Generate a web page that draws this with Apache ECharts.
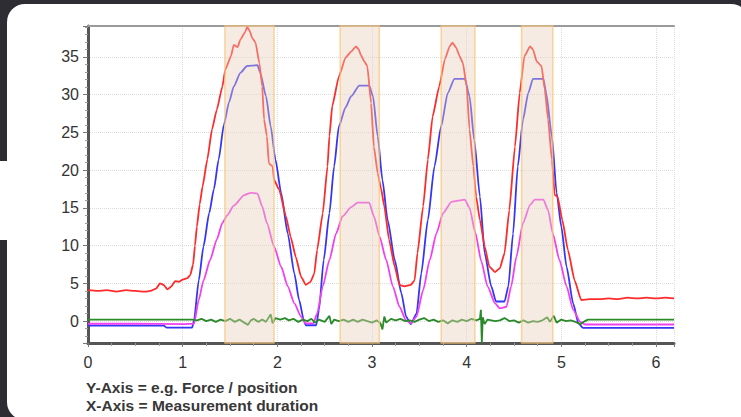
<!DOCTYPE html>
<html>
<head>
<meta charset="utf-8">
<script src="https://cdn.jsdelivr.net/npm/echarts@6/dist/echarts.min.js"></script>
<style>
html,body{margin:0;padding:0;background:#2e2d33;}
#chart{width:741px;height:417px;}
</style>
</head>
<body>
<div id="chart"></div>
<script>
// ---- data ----
var xTicks = [0, 1, 2, 3, 4, 5, 6];
var yTicks = [0, 5, 10, 15, 20, 25, 30, 35];
var captionLines = ["Y-Axis = e.g. Force / position", "X-Axis = Measurement duration"];

var bands = [[1.446, 1.965], [2.664, 3.077], [3.731, 4.087], [4.58, 4.91]];

var redForce = [
[0,4.1],[0.1,4.0],[0.2,4.1],[0.3,3.9],[0.4,4.1],[0.5,4.0],[0.6,3.9],[0.66,4.0],[0.72,4.3],[0.76,5.0],[0.8,4.8],[0.84,4.2],[0.88,4.6],[0.92,5.3],[0.96,5.2],[1.0,5.5],[1.05,5.7],[1.08,6.1],[1.11,7.5],[1.13,10],[1.15,12.5],[1.18,15.5],[1.21,17.8],[1.26,21.4],[1.31,25.4],[1.36,28.0],[1.42,31.1],[1.45,33.3],[1.51,35.1],[1.54,36.6],[1.58,36.3],[1.61,37.3],[1.665,38.4],[1.68,39.0],[1.71,38.4],[1.735,37.5],[1.77,36.9],[1.81,34.2],[1.84,31.1],[1.86,26.7],[1.89,24.5],[1.91,20.9],[1.95,20.5],[1.965,18.7],[2.02,17.4],[2.09,13.9],[2.14,11.2],[2.195,8.5],[2.25,5.9],[2.30,4.8],[2.35,5.2],[2.39,6.3],[2.42,9.4],[2.48,14.3],[2.53,20.5],[2.55,24.5],[2.58,28.5],[2.65,32.4],[2.72,34.9],[2.78,35.7],[2.83,36.4],[2.86,36.0],[2.88,35.3],[2.92,34.4],[2.95,33.8],[2.99,28.9],[3.02,23.1],[3.06,19.6],[3.095,17.6],[3.13,15.2],[3.18,10.8],[3.24,7.2],[3.29,4.8],[3.34,4.6],[3.41,4.8],[3.45,5.4],[3.48,9.0],[3.54,15.2],[3.59,21.4],[3.64,27.1],[3.71,31.1],[3.77,34.7],[3.82,36.4],[3.85,36.9],[3.89,36.2],[3.925,35.1],[3.96,34.2],[4.0,31.1],[4.03,25.4],[4.07,20.5],[4.10,16.5],[4.14,13.4],[4.19,9.9],[4.24,7.2],[4.30,6.5],[4.35,7.0],[4.40,9.0],[4.45,14.7],[4.51,23.1],[4.56,30.2],[4.61,35.1],[4.67,36.4],[4.70,36.0],[4.74,34.4],[4.79,33.8],[4.825,30.7],[4.86,26.7],[4.90,21.4],[4.93,16.7],[4.96,16.5],[5.01,13.4],[5.07,9.4],[5.14,5.4],[5.21,2.8],[5.3,2.9],[5.4,2.9],[5.5,3.0],[5.6,2.9],[5.7,3.1],[5.8,3.0],[5.9,3.1],[6.0,3.0],[6.1,3.1],[6.19,3.0]
];

var bluePosition = [
[0,-0.6],[0.4,-0.6],[0.8,-0.6],[0.83,-0.85],[1.0,-0.85],[1.1,-0.85],[1.12,0.1],[1.17,5.4],[1.22,9.9],[1.28,14.3],[1.33,17.5],[1.38,21.4],[1.435,26.0],[1.49,29.0],[1.54,31.1],[1.61,32.9],[1.68,33.8],[1.79,33.9],[1.82,32.9],[1.88,29.8],[1.93,25.8],[1.98,21.4],[2.04,17.0],[2.11,11.6],[2.18,6.3],[2.23,2.8],[2.28,0.1],[2.30,-0.55],[2.41,-0.55],[2.44,1.5],[2.49,8.1],[2.55,14.3],[2.60,20.5],[2.65,25.8],[2.72,28.3],[2.78,29.8],[2.865,31.2],[2.97,31.2],[3.01,29.8],[3.06,24.5],[3.11,18.7],[3.165,13.4],[3.24,8.1],[3.31,3.7],[3.36,0.6],[3.41,-0.4],[3.47,1.0],[3.52,6.3],[3.59,13.4],[3.66,20.5],[3.73,25.8],[3.80,30.2],[3.87,32.1],[3.98,32.1],[4.03,29.8],[4.08,24.0],[4.14,16.5],[4.19,9.0],[4.26,4.6],[4.31,2.6],[4.40,2.6],[4.44,4.6],[4.49,11.6],[4.54,20.5],[4.595,26.7],[4.65,30.2],[4.70,32.1],[4.81,32.1],[4.84,30.2],[4.90,24.5],[4.95,17.0],[5.00,12.5],[5.055,7.2],[5.125,2.35],[5.18,-0.3],[5.23,-0.9],[5.6,-0.9],[6.19,-0.9]
];

var magentaSignal = [
[0,-0.35],[0.5,-0.35],[1.0,-0.4],[1.12,-0.35],[1.17,2.8],[1.22,5.4],[1.29,8.1],[1.36,10.8],[1.42,13.0],[1.47,14.0],[1.54,15.3],[1.65,16.7],[1.72,17.0],[1.79,16.9],[1.84,15.2],[1.89,13.0],[1.965,9.9],[2.04,7.2],[2.11,4.6],[2.18,2.35],[2.25,0.6],[2.30,-0.3],[2.38,-0.3],[2.42,1.0],[2.48,4.6],[2.55,8.1],[2.62,11.6],[2.69,13.9],[2.78,15.1],[2.85,15.7],[2.97,15.7],[3.02,13.9],[3.08,11.2],[3.15,8.1],[3.22,4.6],[3.29,1.9],[3.36,0.1],[3.41,-0.3],[3.47,0.6],[3.54,4.1],[3.61,8.1],[3.68,11.6],[3.75,14.3],[3.84,15.8],[3.98,16.1],[4.03,15.0],[4.09,11.8],[4.155,7.9],[4.22,4.6],[4.30,2.35],[4.35,1.7],[4.42,1.9],[4.47,4.6],[4.525,8.5],[4.595,13.0],[4.67,15.4],[4.72,16.1],[4.81,16.1],[4.86,14.7],[4.91,11.6],[4.98,8.1],[5.055,4.6],[5.125,1.5],[5.20,-0.1],[5.25,-0.45],[6.19,-0.45]
];

var greenSignal = [
[0,0.2],[0.5,0.2],[1.0,0.2],[1.1,0.2],[1.15,0.1],[1.2,0.3],[1.25,0.0],[1.3,0.2],[1.35,-0.1],[1.4,0.2],[1.45,0.0],[1.5,0.3],[1.55,-0.1],[1.6,0.2],[1.65,-0.2],[1.69,-0.5],[1.72,0.1],[1.75,0.3],[1.8,-0.1],[1.84,0.2],[1.88,-0.1],[1.93,0.9],[1.95,-0.3],[1.98,0.4],[2.03,0.2],[2.08,0.4],[2.12,0.1],[2.17,0.3],[2.22,-0.1],[2.27,0.2],[2.32,0.0],[2.36,0.3],[2.4,-0.2],[2.44,0.2],[2.5,-0.1],[2.55,0.7],[2.57,-0.4],[2.6,0.2],[2.65,0.0],[2.7,0.2],[2.75,-0.1],[2.8,0.2],[2.85,-0.1],[2.9,0.2],[2.95,0.0],[3.0,-0.2],[3.05,0.1],[3.09,-0.3],[3.11,-1.1],[3.13,0.6],[3.15,-0.2],[3.2,0.3],[3.25,0.1],[3.3,0.3],[3.35,0.0],[3.4,0.1],[3.45,-0.1],[3.5,0.2],[3.55,0.4],[3.6,0.0],[3.65,0.2],[3.7,-0.1],[3.75,0.1],[3.8,-0.3],[3.85,0.1],[3.9,-0.1],[3.95,0.2],[4.0,0.0],[4.05,0.3],[4.1,0.1],[4.14,0.3],[4.15,1.5],[4.16,-2.9],[4.17,0.5],[4.19,-0.4],[4.22,0.2],[4.3,0.0],[4.35,0.1],[4.4,0.4],[4.45,0.0],[4.5,0.1],[4.55,-0.2],[4.6,0.1],[4.65,-0.2],[4.7,0.0],[4.75,-0.1],[4.8,0.1],[4.85,0.5],[4.88,-0.1],[4.92,0.7],[4.95,-0.2],[5.0,0.2],[5.05,0.0],[5.1,0.1],[5.15,-0.1],[5.2,-0.4],[5.25,0.0],[5.28,0.2],[6.19,0.2]
];

// ---- chart ----
var chart = echarts.init(document.getElementById('chart'), null, {renderer: 'svg'});
var font = '"Liberation Sans", Arial, sans-serif';

function lineSeries(name, data, color, smooth) {
  return {
    name: name, type: 'line', data: data, showSymbol: false, symbol: 'none',
    smooth: smooth, smoothMonotone: 'x',
    lineStyle: {color: color, width: 1.8}, z: 2, animation: false
  };
}

var option = {
  backgroundColor: '#2e2d33',
  animation: false,
  graphic: [
    {type: 'rect', z: -10, shape: {x: 7, y: 4, width: 742, height: 416, r: 18}, style: {fill: '#ffffff'}},
    {type: 'rect', z: -10, shape: {x: 0, y: 161, width: 12, height: 79}, style: {fill: '#ffffff'}},
    {type: 'text', z: 10, left: 86, top: 379, style: {text: captionLines[0], font: 'bold 15.5px ' + font, fill: '#383838'}},
    {type: 'text', z: 10, left: 86, top: 397, style: {text: captionLines[1], font: 'bold 15.5px ' + font, fill: '#383838'}}
  ],
  grid: {left: 88, right: 67, top: 26, bottom: 74, containLabel: false},
  xAxis: [{
    type: 'value', min: 0, max: 6.19, interval: 1, position: 'bottom',
    axisLine: {show: true, onZero: false, lineStyle: {color: '#555', width: 3}},
    axisTick: {show: true, length: 4, lineStyle: {color: '#777'}},
    minorTick: {show: true, splitNumber: 4, length: 3, lineStyle: {color: '#999'}},
    axisLabel: {color: '#333', fontSize: 16, fontFamily: font, margin: 11,
      formatter: function (v) { return xTicks.indexOf(v) >= 0 ? String(v) : ''; }},
    splitLine: {show: true, lineStyle: {color: '#dcdcdc', type: 'dotted', width: 1}}
  }, {
    type: 'value', min: 0, max: 6.19, position: 'top',
    axisLine: {show: true, onZero: false, lineStyle: {color: '#9a9a9a', width: 2}},
    axisTick: {show: false}, axisLabel: {show: false}, splitLine: {show: false}
  }],
  yAxis: {
    type: 'value', min: -2.9, max: 39.1, splitNumber: 8,
    axisLine: {show: true, onZero: false, lineStyle: {color: '#555', width: 3}},
    axisTick: {show: true, length: 5, lineStyle: {color: '#777'}},
    minorTick: {show: true, splitNumber: 5, length: 3, lineStyle: {color: '#999'}},
    axisLabel: {color: '#333', fontSize: 16, fontFamily: font, margin: 9,
      formatter: function (v) { return yTicks.indexOf(v) >= 0 ? String(v) : ''; }},
    splitLine: {show: true, lineStyle: {color: '#dcdcdc', type: 'dotted', width: 1}}
  },
  series: [
    lineSeries('Position', bluePosition, '#3535f5', 0.2),
    lineSeries('Signal 2', magentaSignal, '#f040f0', 0.2),
    lineSeries('Force', redForce, '#ff2a2a', 0.15),
    lineSeries('Signal 3', greenSignal, '#2a8a2a', false),
    {
      name: 'Bands', type: 'line', data: [], showSymbol: false,
      markArea: {
        silent: true, z: 10,
        itemStyle: {color: 'rgba(234,207,186,0.42)', borderColor: 'rgba(250,195,115,0.7)', borderWidth: 1.5},
        data: bands.map(function (b) { return [{xAxis: b[0]}, {xAxis: b[1]}]; })
      }
    }
  ]
};
chart.setOption(option);
</script>
</body>
</html>
